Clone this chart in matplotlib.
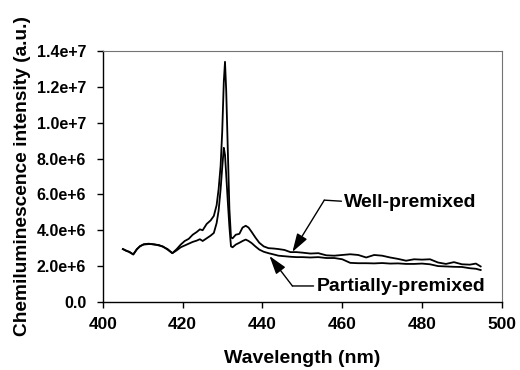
import matplotlib
matplotlib.use("Agg")
import matplotlib.pyplot as plt

# wavelength grid (nm)
wavelength = [405.0, 405.8, 406.6, 407.6, 408.5, 409.3, 410.2, 411.5, 412.8, 414.0,
              415.0, 416.2, 417.4, 418.5, 419.5, 420.5, 421.5, 422.5, 423.5, 424.3,
              425.0, 426.0, 427.0, 427.8, 428.5, 429.0, 429.5, 429.9, 430.3, 430.6,
              430.9, 431.3, 431.7, 432.1, 432.5, 433.3, 434.2, 435.0, 435.8, 436.5,
              437.3, 438.2, 439.2, 440.3, 441.5, 442.8, 444.0, 445.5, 447.0, 448.5,
              450.0, 452.0, 454.0, 456.0, 458.0, 460.0, 462.0, 464.0, 466.0, 468.0,
              470.0, 472.0, 474.0, 476.0, 478.0, 480.0, 482.0, 484.0, 486.0, 488.0,
              490.0, 492.0, 493.5, 494.7]

# intensity, units of 1e6 (a.u.)
well_premixed = [2.95, 2.85, 2.80, 2.65, 2.95, 3.10, 3.22, 3.25, 3.20, 3.18,
                 3.08, 2.95, 2.72, 2.95, 3.20, 3.40, 3.52, 3.75, 3.90, 4.05,
                 4.00, 4.35, 4.55, 4.80, 5.40, 6.30, 7.60, 9.50, 12.3, 13.4,
                 11.8, 8.50, 5.20, 3.60, 3.55, 3.75, 3.80, 4.15, 4.25, 4.15,
                 3.90, 3.60, 3.30, 3.10, 3.00, 2.98, 2.95, 2.90, 2.78, 2.78,
                 2.75, 2.70, 2.72, 2.60, 2.58, 2.62, 2.66, 2.62, 2.48, 2.62,
                 2.58, 2.48, 2.40, 2.30, 2.38, 2.36, 2.38, 2.20, 2.12, 2.22,
                 2.10, 2.08, 2.14, 1.98]

partially_premixed = [2.95, 2.87, 2.78, 2.65, 2.93, 3.12, 3.20, 3.23, 3.22, 3.15,
                      3.10, 2.92, 2.72, 2.88, 3.05, 3.15, 3.25, 3.35, 3.42, 3.50,
                      3.40, 3.55, 3.70, 3.85, 4.40, 5.10, 6.30, 7.50, 8.60, 8.20,
                      7.10, 5.60, 4.20, 3.10, 3.05, 3.20, 3.30, 3.40, 3.48, 3.40,
                      3.28, 3.10, 2.92, 2.80, 2.72, 2.65, 2.58, 2.55, 2.52, 2.50,
                      2.50, 2.48, 2.50, 2.45, 2.45, 2.38, 2.18, 2.16, 2.16, 2.15,
                      2.17, 2.14, 2.15, 2.12, 2.12, 2.14, 2.10, 2.00, 1.98, 1.96,
                      1.95, 1.88, 1.85, 1.78]

x_ticks = [400, 420, 440, 460, 480, 500]
y_ticks = [0, 2e6, 4e6, 6e6, 8e6, 1e7, 1.2e7, 1.4e7]
y_tick_labels = ["0.0", "2.0e+6", "4.0e+6", "6.0e+6", "8.0e+6", "1.0e+7", "1.2e+7", "1.4e+7"]

plt.rcParams['font.family'] = ['Liberation Sans', 'DejaVu Sans']
plt.rcParams['font.weight'] = 'bold'

fig = plt.figure(figsize=(5.2, 3.7), dpi=100)
ax = fig.add_axes([0.198, 0.184, 0.767, 0.678])

ax.plot(wavelength, [v * 1e6 for v in well_premixed], color='black', lw=1.3)
ax.plot(wavelength, [v * 1e6 for v in partially_premixed], color='black', lw=1.3)

ax.set_xlim(400, 500)
ax.set_ylim(0, 1.4e7)
ax.set_xticks(x_ticks)
ax.set_xticklabels([str(t) for t in x_ticks], fontsize=12.5, fontweight='bold')
ax.set_yticks(y_ticks)
ax.set_yticklabels(y_tick_labels, fontsize=11.5, fontweight='bold')
ax.tick_params(axis='x', direction='out', length=4, width=1, pad=7)
ax.tick_params(axis='y', direction='out', length=4, width=1, pad=8)

ax.set_xlabel("Wavelength (nm)", fontsize=14, fontweight='bold', labelpad=13)
ax.set_ylabel("Chemiluminescence intensity (a.u.)", fontsize=13.8, fontweight='bold', labelpad=4)

for side in ['left', 'bottom']:
    ax.spines[side].set_color('black')
    ax.spines[side].set_linewidth(1.0)
for side in ['top', 'right']:
    ax.spines[side].set_color('0.45')
    ax.spines[side].set_linewidth(0.8)

head = '-|>,head_length=0.7,head_width=0.22'

# labels with elbow leaders
ax.text(460.5, 5.57e6, "Well-premixed", fontsize=14, fontweight='bold', va='center', ha='left')
ax.annotate("", xy=(455.5, 5.68e6), xytext=(459.8, 5.62e6),
            arrowprops=dict(arrowstyle='-', color='black', lw=1.0, shrinkA=0, shrinkB=0))
ax.annotate("", xy=(447.5, 2.79e6), xytext=(455.5, 5.68e6),
            arrowprops=dict(arrowstyle=head, color='black', lw=1.0, mutation_scale=16,
                            shrinkA=0, shrinkB=0))

ax.text(453.5, 0.84e6, "Partially-premixed", fontsize=14, fontweight='bold', va='center', ha='left')
ax.annotate("", xy=(447.5, 0.89e6), xytext=(452.8, 0.89e6),
            arrowprops=dict(arrowstyle='-', color='black', lw=1.0, shrinkA=0, shrinkB=0))
ax.annotate("", xy=(441.75, 2.56e6), xytext=(447.5, 0.89e6),
            arrowprops=dict(arrowstyle=head, color='black', lw=1.0, mutation_scale=16,
                            shrinkA=0, shrinkB=0))

fig.savefig("out.png", dpi=100)
